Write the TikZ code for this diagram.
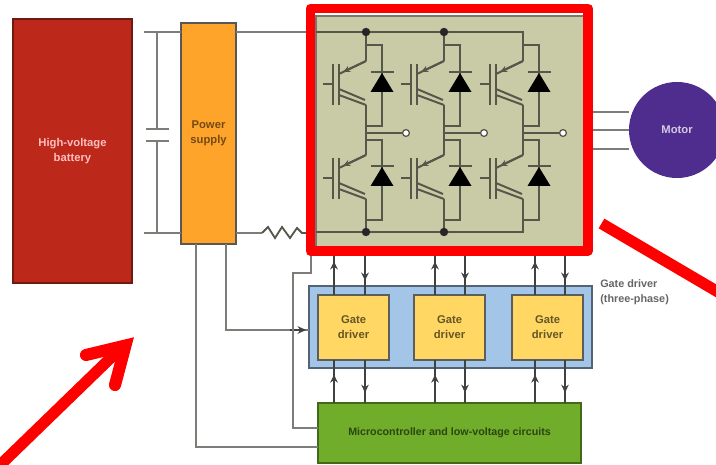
\documentclass[tikz,border=0pt]{standalone}
\usepackage{fontspec}
\setmainfont{Liberation Sans}
\usetikzlibrary{arrows.meta,decorations.markings}
\definecolor{evWire}{HTML}{7C7C78}
\definecolor{evInner}{HTML}{55574A}
\definecolor{evSignal}{HTML}{3E4240}
\definecolor{evRed}{HTML}{FF0000}
\definecolor{evBattery}{HTML}{BC281A}
\definecolor{evSupply}{HTML}{FFA42B}
\definecolor{evOlive}{HTML}{C9CAA6}
\definecolor{evBlue}{HTML}{A2C5E8}
\definecolor{evYellow}{HTML}{FFD762}
\definecolor{evGreen}{HTML}{6FAD2A}
\definecolor{evMotor}{HTML}{4F2D8F}
\tikzset{
  ev box/.style={rectangle, inner sep=0pt, outer sep=0pt, align=center,
    line width=1.4pt, font=\bfseries\fontsize{8}{10.6}\selectfont},
  ev wire/.style={draw=evWire, line width=1.6pt},
  ev inner/.style={draw=evInner, line width=1.4pt},
  ev signal/.style={draw=evSignal, line width=1.4pt},
  ev dot/.style={circle, fill=black!85, inner sep=0pt, minimum size=2.1mm},
  ev port/.style={circle, draw=evInner, fill=white, line width=.9pt,
    inner sep=0pt, minimum size=1.7mm},
  ev mark/.style={postaction={decorate}, decoration={markings,
    mark=at position #1 with {\arrow{Stealth[length=2mm,width=1.9mm]}}}},
  ev red/.style={draw=evRed, line width=7.1pt},
  ev slash/.style={draw=evRed, line width=8pt}
}
\begin{document}
\begin{tikzpicture}[x=.025cm,y=-.025cm]
  \clip (0,0) rectangle (716,465);
  \fill[white] (0,0) rectangle (716,465);

  % power path, under the boxes
  \coordinate (topL) at (144,32);
  \coordinate (botL) at (144,233);
  \coordinate (capA) at (157,129);
  \coordinate (capB) at (157,141);
  \coordinate (resA) at (262,233);
  \coordinate (resB) at (302,233);
  \node[ev box, draw=evWire!70!black, fill=evSupply, text=evSupply!45!black,
    minimum width=1.375cm, minimum height=5.525cm] (supply) at (208.5,133.5) {Power\\supply};
  \draw[ev wire] (topL) -- (supply.west |- topL) (botL) -- (supply.west |- botL);
  \draw[ev wire] (capA -| 146,0) -- (capA -| 169,0) (capB -| 146,0) -- (capB -| 169,0);
  \draw[ev wire] (capA) -- (capA |- topL) (capB) -- (capB |- botL);
  \draw[ev wire] (supply.east |- topL) -- (316,32);
  \draw[ev wire] (supply.east |- botL) -- (resA);
  \draw[draw=evInner, line width=1.3pt] (resA) -- (268,227) -- (275,238) -- (282,227)
    -- (290,238) -- (297,228) -- (resB) -- (316,233);

  \node[ev box, draw=evBattery!60!black, fill=evBattery, text=red!25!white,
    minimum width=2.975cm, minimum height=6.6cm] (battery) at (72.5,151) {High-voltage\\battery};

  % inverter with its three legs
  \node[ev box, draw=evInner!80, fill=evOlive, line width=1pt,
    minimum width=6.7cm, minimum height=5.775cm] (inverter) at (450,131.5) {};
  \draw[ev inner] (inverter.west |- topL) -- (523,32) -- (523,45);
  \draw[ev inner] (inverter.west |- 0,232) -- (523,232) -- (523,220);
  \foreach \dx/\nm in {0/a,78/b,157/c} {
    \begin{scope}[xshift=\dx*.025cm]
      \draw[ev inner] (366,32) -- (366,61);
      \draw[ev inner] (366,105) -- (366,155);
      \draw[ev inner] (366,199) -- (366,232);
      \draw[ev inner] (366,45) -- (382,45) -- (382,126) -- (366,126);
      \draw[ev inner] (366,220) -- (382,220) -- (382,140) -- (366,140);
      \foreach \dy in {0,94} {
        \begin{scope}[yshift=-\dy*.025cm]
          \draw[ev inner] (366,61) -- (339,74);
          \draw[ev inner, -{Stealth[length=1.8mm,width=1.6mm]}] (366,61) -- (343,72);
          \draw[ev inner] (323,84) -- (333,84) (333,64) -- (333,105) (339,64) -- (339,105);
          \draw[ev inner] (339,89) -- (365,100) (339,95) -- (366,105);
          \draw[ev inner] (371,72) -- (394,72);
          \fill[black] (382,73) -- (393.5,92) -- (370.5,92) -- cycle;
        \end{scope}
      }
      \node[ev port] (out\nm) at (406,133) {};
      \draw[ev inner] (366,133) -- (out\nm);
    \end{scope}
  }
  \foreach \x/\nm in {366/a,444/b} {
    \node[ev dot] (hi\nm) at (\x,32) {};
    \node[ev dot] (lo\nm) at (\x,232) {};
  }

  % motor
  \node[circle, fill=evMotor, text=evMotor!25!white, inner sep=0pt, minimum size=2.4cm,
    font=\bfseries\fontsize{8}{10}\selectfont] (motor) at (677,130) {Motor};
  \foreach \y in {112,130,149} {
    \draw[ev wire] (inverter.east |- 0,\y) -- (motor.west |- 0,\y);
  }

  % gate drivers and controller
  \node[ev box, draw=evBlue!50!black, fill=evBlue, line width=1.1pt,
    minimum width=7.075cm, minimum height=2.05cm] (group) at (450.5,327) {};
  \node[ev box, draw=evGreen!60!black, fill=evGreen, text=evGreen!40!black,
    font=\bfseries\fontsize{7.6}{9}\selectfont,
    minimum width=6.575cm, minimum height=1.5cm] (micro) at (449.5,433)
    {Microcontroller and low-voltage circuits};
  \foreach \nm/\cx/\a/\b in {a/353.5/334/365,b/449.5/435/465,c/547.5/535/565} {
    \node[ev box, draw=evSignal!85, fill=evYellow, text=evYellow!40!black,
      minimum width=1.775cm, minimum height=1.625cm] (drv\nm) at (\cx,327.5) {Gate\\driver};
    \draw[ev signal, ev mark=.70] (drv\nm.north -| \a,0) -- (inverter.south -| \a,0);
    \draw[ev signal, ev mark=.70] (inverter.south -| \b,0) -- (drv\nm.north -| \b,0);
    \draw[ev signal, ev mark=.66] (micro.north -| \a,0) -- (drv\nm.south -| \a,0);
    \draw[ev signal, ev mark=.76] (drv\nm.south -| \b,0) -- (micro.north -| \b,0);
  }
  \draw[ev wire] (supply.south -| 196,0) -- (196,447) -- (micro.west |- 0,447);
  \draw[ev wire] (supply.south -| 226,0) -- (226,330) -- (309,330);
  \draw[ev signal, -{Stealth[length=2.1mm,width=1.9mm]}] (290,330) -- (306,330);
  \draw[ev wire] (311,252) -- (311,273) -- (293,273) -- (293,428) -- (micro.west |- 0,428);
  \node[anchor=west, align=left, text=black!60, inner sep=0pt,
    font=\bfseries\fontsize{7.7}{10.6}\selectfont] (grouplabel) at (600,292.5)
    {Gate driver\\(three-phase)};

  % red marks on top
  \draw[ev red, line join=round] (310.5,8.5) rectangle (588,251);
  \draw[ev slash] (601.5,223.5) -- (730,299);
  \draw[ev slash] (-6,471) -- (124,345);
  \draw[ev slash, line width=8.6pt, line cap=round, line join=miter, miter limit=6]
    (86,355) -- (125.5,345.5) -- (115,385);
\end{tikzpicture}
\end{document}
